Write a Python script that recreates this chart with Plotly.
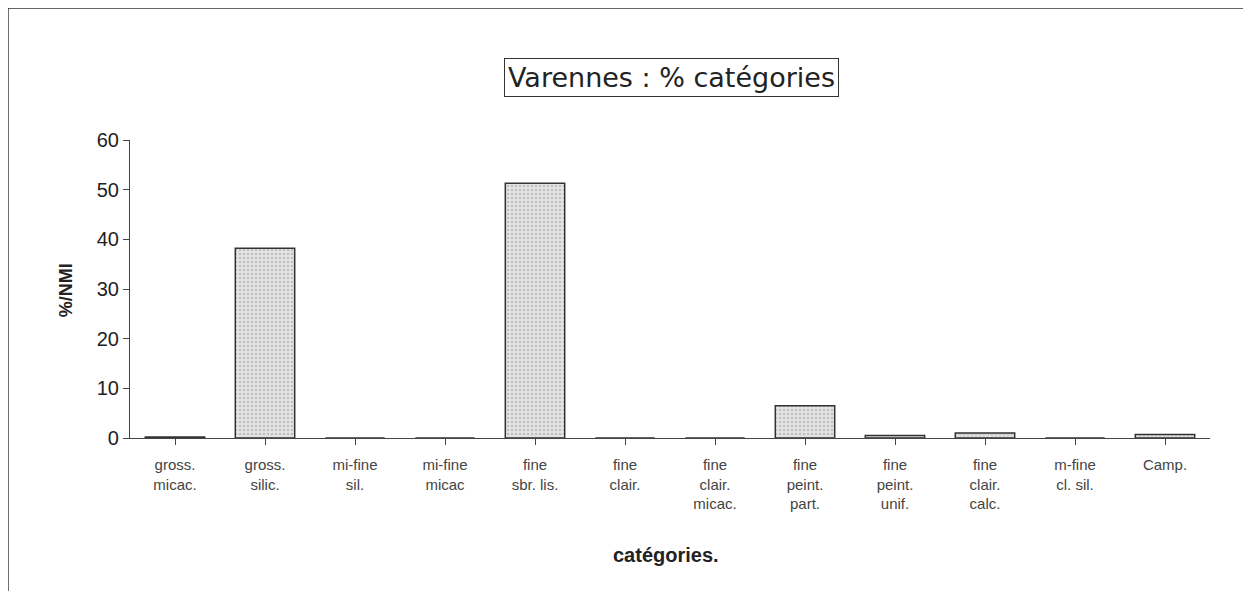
import plotly.graph_objects as go

categories = ["gross.<br>micac.", "gross.<br>silic.", "mi-fine<br>sil.", "mi-fine<br>micac",
              "fine<br>sbr. lis.", "fine<br>clair.", "fine<br>clair.<br>micac.", "fine<br>peint.<br>part.",
              "fine<br>peint.<br>unif.", "fine<br>clair.<br>calc.", "m-fine<br>cl. sil.", "Camp."]
values = [0.2, 38.2, 0, 0, 51.3, 0, 0, 6.5, 0.5, 1.0, 0, 0.7]
patterns = [".", ".", ".", ".", ".", ".", ".", ".", "+", "+", "+", "+"]

fig = go.Figure()
fig.add_trace(go.Bar(
    x=list(range(len(categories))), y=values, width=0.66,
    marker=dict(color="#e4e4e4", line=dict(color="#333333", width=1.5),
                pattern=dict(shape=patterns, fgcolor="#9a9a9a", bgcolor="#e4e4e4",
                             size=4, solidity=0.3)),
))

# page body has an 8px margin, so shift margins to keep the plot area in place
fig.update_layout(
    width=1251, height=591,
    margin=dict(l=122, r=49, t=132, b=161),
    paper_bgcolor="white", plot_bgcolor="white",
    showlegend=False,
    font=dict(family="Liberation Sans, Arial, sans-serif", color="#333333"),
)
fig.update_xaxes(
    tickmode="array", tickvals=list(range(len(categories))), ticktext=categories,
    range=[-0.5, len(categories) - 0.5], tickson="boundaries",
    ticks="outside", ticklen=6, tickcolor="#444444", ticklabelstandoff=7,
    showline=True, linecolor="#444444", linewidth=1.2,
    showgrid=False, zeroline=False, tickfont=dict(size=15, color="#444444"),
)
fig.update_yaxes(
    range=[0, 60], dtick=10, ticks="outside", ticklen=6, tickcolor="#444444",
    showline=True, linecolor="#444444", linewidth=1.2,
    showgrid=False, zeroline=False, tickfont=dict(size=20, color="#222222"),
)

# outer frame
fig.add_shape(type="rect", xref="paper", yref="paper", x0=-0.113, x1=1.06, y0=-0.6, y1=1.443,
              line=dict(color="#333333", width=1.5))

fig.add_annotation(text="Varennes : % catégories", xref="paper", yref="paper", x=0.501, y=1.211,
                   xanchor="center", yanchor="middle", showarrow=False,
                   font=dict(size=27, color="#222222", family="DejaVu Sans, Verdana, sans-serif"),
                   bordercolor="#333333", borderwidth=1, borderpad=3, bgcolor="white")
fig.add_annotation(text="<b>catégories.</b>", xref="paper", yref="paper", x=0.496, y=-0.393,
                   xanchor="center", yanchor="middle", showarrow=False,
                   font=dict(size=20, color="#222222"))
fig.add_annotation(text="<b>%/NMI</b>", xref="paper", yref="paper", x=-0.059, y=0.497,
                   xanchor="center", yanchor="middle", showarrow=False, textangle=-90,
                   font=dict(size=18, color="#222222"))

fig.write_html("out.html")
